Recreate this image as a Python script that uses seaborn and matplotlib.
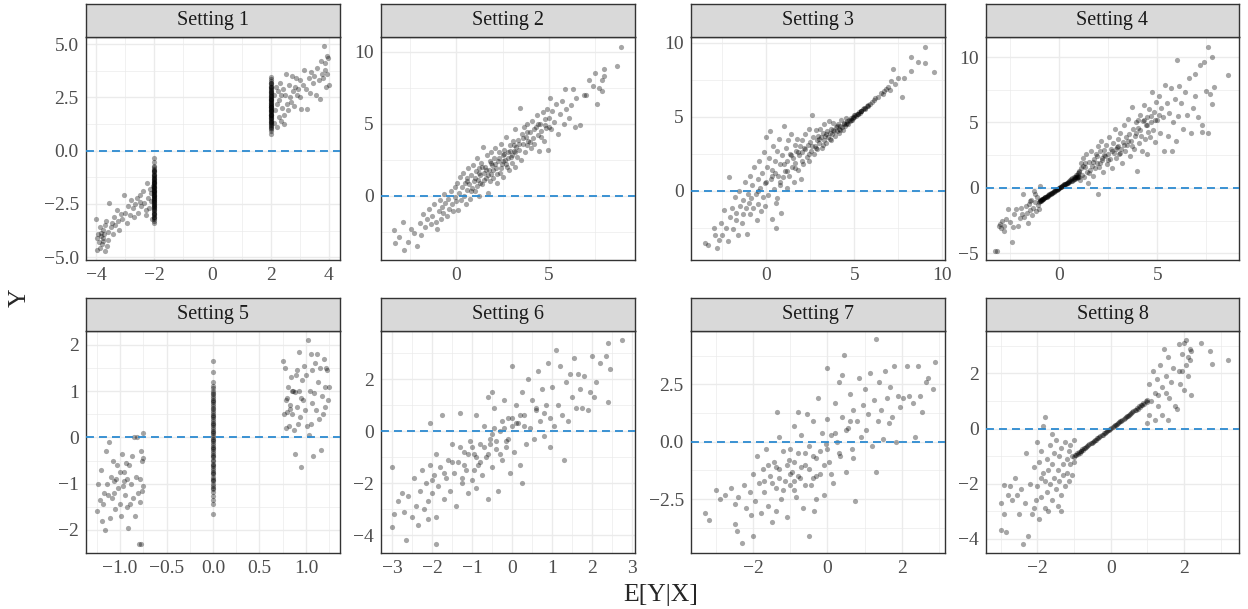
import pandas as pd
import matplotlib
matplotlib.use("Agg")
import matplotlib.pyplot as plt
import seaborn as sns

# ---- data (estimated) ----
SETTINGS = ["Setting 1", "Setting 2", "Setting 3", "Setting 4",
            "Setting 5", "Setting 6", "Setting 7", "Setting 8"]

s1_cloud = [
    (-4.00, -3.2), (-3.98, -4.1), (-3.96, -4.65), (-3.93, -3.9), (-3.90, -4.3), (-3.87, -3.6),
    (-3.85, -4.0), (-3.82, -3.85), (-3.80, -4.4), (-3.78, -3.7), (-3.75, -4.1), (-3.72, -3.9),
    (-3.70, -4.7), (-3.68, -3.5), (-3.65, -3.3), (-3.60, -4.2), (-3.58, -3.8), (-3.55, -2.45),
    (-3.50, -3.6), (-3.47, -3.4), (-3.42, -3.9), (-3.38, -3.1), (-3.35, -3.5), (-3.30, -2.8),
    (-3.25, -3.3), (-3.20, -3.7), (-3.15, -2.95), (-3.10, -3.2), (-3.05, -2.1), (-3.00, -2.9),
    (-2.95, -3.4), (-2.90, -2.6), (-2.85, -3.0), (-2.80, -2.3), (-2.75, -2.7), (-2.70, -3.1),
    (-2.65, -2.5), (-2.60, -2.2), (-2.55, -2.9), (-2.50, -2.4), (-2.45, -2.6), (-2.40, -1.9),
    (-2.35, -2.45), (-2.30, -3.0), (-2.25, -1.5), (-2.22, -2.2), (-2.18, -2.7), (-2.15, -1.8),
    (-2.12, -2.35), (-2.08, -3.2), (-2.06, -1.65), (-2.10, -2.0), (-2.28, -2.8), (-2.48, -2.1),
    (-3.62, -4.45), (-3.88, -4.55), (-3.75, -4.25),
    (2.10, 1.3), (2.12, 2.6), (2.15, 1.9), (2.18, 3.0), (2.20, 2.2), (2.22, 1.1), (2.25, 2.8),
    (2.28, 1.6), (2.30, 2.4), (2.33, 3.2), (2.35, 1.4), (2.40, 2.0), (2.42, 2.9), (2.45, 1.7),
    (2.50, 2.6), (2.52, 3.6), (2.55, 2.2), (2.60, 1.9), (2.62, 3.1), (2.65, 2.5), (2.70, 2.3),
    (2.72, 3.5), (2.75, 2.8), (2.80, 2.1), (2.85, 3.0), (2.88, 3.4), (2.90, 2.6), (2.95, 2.9),
    (3.00, 3.3), (3.02, 2.5), (3.05, 1.95), (3.10, 3.1), (3.15, 3.8), (3.20, 2.9), (3.25, 1.95),
    (3.30, 3.4), (3.35, 2.7), (3.40, 3.7), (3.45, 3.2), (3.50, 3.5), (3.55, 2.6), (3.60, 3.9),
    (3.65, 3.3), (3.70, 2.45), (3.72, 4.2), (3.75, 3.6), (3.80, 3.4), (3.82, 4.9), (3.85, 3.8),
    (3.88, 4.1), (3.90, 3.0), (3.92, 4.45), (3.95, 3.6), (3.98, 4.35), (4.00, 3.1), (2.45, 1.25),
    (2.35, 2.6),
]
# observations stacked at E[Y|X] = -2 and E[Y|X] = 2
s1_stripe_neg = [
    -0.35, -0.52, -0.7, -0.78, -0.85, -0.9, -0.97, -1.02, -1.08, -1.12, -1.18, -1.21, -1.27,
    -1.31, -1.36, -1.4, -1.45, -1.48, -1.53, -1.57, -1.61, -1.66, -1.69, -1.74, -1.77, -1.82,
    -1.85, -1.89, -1.93, -1.96, -2.0, -2.03, -2.07, -2.11, -2.14, -2.18, -2.21, -2.26, -2.29,
    -2.33, -2.37, -2.4, -2.45, -2.48, -2.53, -2.57, -2.62, -2.66, -2.71, -2.75, -2.8, -2.86,
    -2.91, -2.97, -3.03, -3.1, -3.16, -3.22, -3.3, -3.38,
    -0.95, -1.15, -1.34, -1.5, -1.72, -1.88, -2.06, -2.24, -2.43, -2.6, -2.78, -2.95, -3.13,
]
s1_stripe_pos = [
    0.8, 0.92, 1.0, 1.08, 1.14, 1.2, 1.25, 1.3, 1.36, 1.4, 1.45, 1.49, 1.54, 1.58, 1.62, 1.66,
    1.7, 1.74, 1.78, 1.81, 1.85, 1.89, 1.92, 1.96, 2.0, 2.03, 2.07, 2.1, 2.14, 2.17, 2.21, 2.25,
    2.28, 2.32, 2.36, 2.4, 2.44, 2.48, 2.52, 2.56, 2.61, 2.65, 2.7, 2.74, 2.79, 2.84, 2.89,
    2.95, 3.0, 3.06, 3.12, 3.19, 3.27, 3.35, 3.45,
    1.11, 1.33, 1.52, 1.69, 1.87, 2.05, 2.23, 2.42, 2.59, 2.77, 2.97, 3.16,
]

s2_cloud = [
    (-3.4, -2.4), (-3.3, -3.3), (-3.1, -2.9), (-2.9, -1.8), (-2.85, -3.8), (-2.6, -3.2),
    (-2.3, -2.6), (-2.15, -3.5), (-2.45, -2.3),
    (-1.95, -1.9), (-1.9, -2.7), (-1.8, -1.3), (-1.7, -2.2), (-1.6, -1.6), (-1.5, -0.9),
    (-1.4, -2.0), (-1.3, -1.4), (-1.2, -0.6), (-1.1, -1.8), (-1.05, -2.3),
    (-0.95, -1.1), (-0.9, -0.3), (-0.85, -1.6), (-0.8, -0.8), (-0.7, -1.2), (-0.65, 0.1),
    (-0.6, -0.5), (-0.5, -1.4), (-0.45, -0.2), (-0.4, -0.9), (-0.3, 0.3), (-0.25, -0.6),
    (-0.2, -1.1), (-0.1, -0.1), (-0.05, 0.6),
    (0.0, -0.4), (0.05, 0.9), (0.1, -1.0), (0.15, 0.2), (0.2, 1.3), (0.25, -0.3), (0.3, 0.6),
    (0.35, 1.6), (0.4, 0.0), (0.45, 0.9), (0.5, -0.6), (0.55, 1.2), (0.6, 0.4), (0.65, 1.9),
    (0.7, 0.8), (0.75, -0.2), (0.8, 1.4), (0.85, 0.5), (0.9, 2.1), (0.95, 1.0),
    (1.0, 0.3), (1.05, 1.7), (1.1, 2.6), (1.15, 1.1), (1.2, 0.0), (1.25, 1.9), (1.3, 1.4),
    (1.35, 2.3), (1.4, 0.8), (1.45, 3.4), (1.5, 1.6), (1.55, 2.0), (1.6, 1.2), (1.65, 2.8),
    (1.7, 0.2), (1.75, 1.8), (1.8, 2.4), (1.85, 1.5), (1.9, 3.0), (1.95, 2.1),
    (2.0, 1.2), (2.05, 2.6), (2.1, 3.3), (2.15, 1.9), (2.2, 0.9), (2.25, 2.4), (2.3, 3.0),
    (2.35, 1.6), (2.4, 3.6), (2.45, 2.2), (2.5, 2.8), (2.55, 1.3), (2.6, 3.2), (2.65, 2.5),
    (2.7, 4.1), (2.75, 2.0), (2.8, 3.0), (2.85, 1.8), (2.9, 3.5), (2.95, 2.7),
    (3.0, 2.3), (3.05, 3.8), (3.1, 3.1), (3.15, 2.0), (3.2, 4.6), (3.25, 3.4), (3.3, 2.7),
    (3.35, 3.9), (3.4, 3.2), (3.45, 6.1), (3.5, 2.5), (3.55, 4.3), (3.6, 3.6), (3.65, 4.8),
    (3.7, 3.0), (3.75, 4.1), (3.8, 3.5), (3.85, 5.0), (3.9, 3.8),
    (4.0, 4.4), (4.05, 3.3), (4.1, 5.2), (4.15, 4.0), (4.2, 3.6), (4.3, 4.8), (4.35, 5.6),
    (4.4, 4.2), (4.5, 3.1), (4.55, 5.0), (4.6, 4.5), (4.7, 5.8), (4.75, 3.8), (4.8, 5.3),
    (4.85, 4.7), (4.9, 6.0), (4.95, 3.2),
    (5.0, 5.4), (5.05, 6.8), (5.1, 4.6), (5.2, 5.9), (5.3, 5.1), (5.4, 6.4), (5.5, 4.3),
    (5.6, 5.7), (5.7, 6.6), (5.8, 5.0), (5.9, 7.4), (5.95, 6.0),
    (6.1, 5.4), (6.2, 6.3), (6.3, 7.4), (6.4, 4.8), (6.5, 6.8), (6.7, 4.9), (6.9, 7.0),
    (7.0, 7.0), (7.2, 8.0), (7.4, 7.6), (7.5, 8.5), (7.6, 6.4), (7.7, 7.5), (7.9, 7.3),
    (8.0, 8.3), (8.0, 8.8), (8.7, 9.0), (8.9, 10.3), (7.9, 8.0),
    (0.6, 1.0), (0.8, 0.3), (1.0, 1.2), (1.1, 0.7), (1.2, 1.6), (1.3, 0.9), (1.4, 2.0),
    (1.5, 1.1), (1.6, 1.8), (1.7, 1.4), (1.8, 1.0), (1.9, 2.3), (2.0, 1.8), (2.1, 2.2),
    (2.2, 1.5), (2.3, 2.6), (2.4, 1.9), (2.5, 2.4), (2.6, 2.9), (2.7, 2.2), (2.8, 2.6),
    (2.9, 3.1), (3.0, 2.8), (3.1, 3.5), (3.2, 3.0), (3.4, 3.6), (3.6, 4.0), (3.8, 4.4),
    (4.0, 3.7), (4.2, 4.6), (4.4, 5.0), (4.6, 4.1), (4.8, 4.9), (5.0, 4.8),
]

s3_cloud = [
    (-3.5, -3.5), (-3.3, -3.7), (-3.0, -2.5), (-2.9, -3.0), (-2.8, -3.9), (-2.7, -3.3),
    (-2.6, -2.2), (-2.5, -3.0), (-2.4, -1.3), (-2.3, -2.5), (-2.2, -3.4), (-2.1, 0.9),
    (-2.05, -1.8),
    (-1.95, -1.2), (-1.9, -2.6), (-1.8, -0.4), (-1.75, -2.0), (-1.7, -1.5), (-1.6, -3.0),
    (-1.55, 0.0), (-1.5, -1.0), (-1.4, -2.2), (-1.35, -0.6), (-1.3, -1.6), (-1.2, 0.6),
    (-1.15, -1.2), (-1.1, -2.9), (-1.05, -0.2),
    (-0.95, -1.6), (-0.9, 1.0), (-0.85, -0.5), (-0.8, 0.4), (-0.75, -1.2), (-0.7, 1.6),
    (-0.6, -0.2), (-0.55, -2.0), (-0.5, 0.8), (-0.45, -0.9), (-0.4, 2.0), (-0.35, 0.2),
    (-0.3, -1.4), (-0.25, 1.2), (-0.2, -0.4), (-0.15, 2.6), (-0.1, 0.5), (-0.05, -1.0),
    (0.0, 3.6), (0.05, 1.6), (0.1, -0.3), (0.15, 2.2), (0.2, 4.0), (0.25, 0.8), (0.3, -1.9),
    (0.35, 1.4), (0.4, 3.0), (0.45, 0.1), (0.5, 2.0), (0.55, -0.8), (0.55, -2.5), (0.6, 2.7),
    (0.65, 1.0), (0.7, 3.5), (0.75, 0.4), (0.8, 1.8), (0.85, -1.5), (0.9, 2.4), (0.95, 0.9),
    (1.0, 4.4), (1.05, 1.3), (1.1, 2.9), (1.15, 0.2), (1.2, 2.0), (1.25, 3.4), (1.3, 1.0),
    (1.35, 2.5), (1.4, 3.8), (1.45, 1.6), (1.5, 2.2), (1.55, 0.6), (1.6, 3.1), (1.65, 1.9),
    (1.7, 2.7), (1.75, 3.5), (1.8, 1.4), (1.85, 2.4), (1.9, 3.0), (1.95, 0.8),
    (2.0, 2.6), (2.05, 3.4), (2.1, 1.8), (2.15, 2.9), (2.2, 3.8), (2.3, 2.3), (2.35, 3.1),
    (2.4, 4.2), (2.45, 2.0), (2.5, 3.3), (2.55, 2.7), (2.6, 5.1), (2.65, 3.6), (2.7, 2.5),
    (2.75, 3.0), (2.8, 4.1), (2.85, 3.4), (2.9, 2.8), (2.95, 3.7),
    (3.0, 3.2), (3.05, 4.2), (3.1, 3.6), (3.15, 2.9), (3.2, 3.9), (3.25, 3.4), (3.3, 4.5),
    (3.35, 3.7), (3.4, 3.2), (3.45, 4.0), (3.5, 3.6), (3.55, 4.7), (3.6, 3.9), (3.65, 3.4),
    (3.7, 4.2), (3.75, 3.8), (3.8, 4.6), (3.85, 4.0), (3.9, 3.7), (3.95, 4.3),
    (4.0, 4.0), (4.05, 4.5), (4.1, 4.2), (4.15, 3.9), (4.2, 4.4), (4.25, 4.8), (4.3, 4.3),
    (4.35, 4.1), (4.4, 4.6), (4.45, 4.4), (4.5, 4.5), (4.55, 4.9), (4.6, 4.6), (4.65, 4.5),
    (4.7, 4.8), (4.75, 4.7), (4.8, 4.9), (4.85, 4.8), (4.9, 5.0), (4.95, 4.9),
    (5.0, 5.0), (5.05, 5.1), (5.1, 5.05), (5.15, 5.2), (5.2, 5.15), (5.25, 5.3), (5.3, 5.25),
    (5.35, 5.4), (5.4, 5.35), (5.5, 5.5), (5.55, 5.6), (5.6, 5.55), (5.7, 5.7), (5.8, 5.8),
    (5.9, 5.85), (6.0, 6.0),
    (6.1, 6.1), (6.2, 6.25), (6.35, 6.3), (6.5, 6.6), (6.6, 6.5), (6.8, 6.9), (6.9, 7.0),
    (6.7, 6.7),
    (7.0, 6.8), (7.1, 7.4), (7.2, 8.2), (7.3, 7.2), (7.5, 7.6), (7.7, 6.3), (7.8, 7.6),
    (8.2, 8.1), (8.2, 9.0), (8.6, 8.7), (9.0, 8.6), (9.0, 9.7), (9.5, 8.0),
    (0.5, 1.2), (0.8, 0.6), (1.0, 1.8), (1.2, 1.3), (1.4, 2.4), (1.6, 1.5), (1.8, 2.6),
    (2.0, 2.0), (2.2, 2.8), (2.4, 2.5), (2.6, 3.0), (2.8, 2.9), (3.0, 3.5), (3.2, 3.1),
    (3.4, 3.8), (3.6, 3.5), (3.8, 4.1), (4.0, 4.4), (4.2, 4.1), (4.4, 4.5), (4.6, 4.7),
    (4.8, 4.8), (5.0, 5.1), (5.2, 5.2), (5.4, 5.4), (5.6, 5.6), (5.8, 5.75), (-0.5, 0.0),
    (0.0, 0.6), (0.3, 1.0), (-1.0, -0.8), (0.6, -0.5),
]

s4_cloud = [
    (-3.3, -4.8), (-3.2, -4.85), (-3.1, -2.9), (-3.0, -3.1), (-2.9, -2.5), (-2.8, -3.3),
    (-2.7, -2.4), (-2.6, -1.6), (-2.5, -2.6), (-2.4, -4.1), (-2.35, -3.0), (-2.3, -2.0),
    (-2.2, -1.6), (-2.1, -2.9), (-2.0, -2.3), (-1.95, -1.5), (-1.9, -2.0), (-1.85, -0.5),
    (-1.8, -2.2), (-1.7, -1.4), (-1.65, -1.9), (-1.6, -2.7), (-1.55, -1.2), (-1.5, -1.7),
    (-1.45, -0.9), (-1.4, -2.1), (-1.35, -1.5), (-1.3, -0.2), (-1.25, -1.1), (-1.2, -1.8),
    (-1.15, -0.7), (-1.1, -1.3), (-1.05, -1.6), (-0.98, 0.15), (-1.5, -1.0), (-1.25, -0.5),
    (-2.8, -2.9), (-3.05, -2.75),
    (1.0, 1.3), (1.05, 0.6), (1.1, 1.9), (1.15, 1.0), (1.2, 2.3), (1.25, 0.8), (1.3, 1.6),
    (1.35, 2.6), (1.4, 1.2), (1.45, 0.4), (1.5, 2.0), (1.55, 1.4), (1.6, 2.8), (1.65, 1.7),
    (1.7, 0.9), (1.75, 2.2), (1.8, 1.5), (1.85, 2.6), (1.9, 1.9), (1.95, 3.2),
    (2.0, -0.5), (2.05, 1.6), (2.1, 2.8), (2.15, 3.6), (2.2, 2.1), (2.25, 1.2), (2.3, 2.9),
    (2.35, 2.4), (2.4, 3.3), (2.45, 1.8), (2.5, 2.6), (2.55, 3.9), (2.6, 2.2), (2.65, 3.0),
    (2.7, 1.5), (2.75, 3.4), (2.8, 2.7), (2.85, 4.5), (2.9, 2.3), (2.95, 3.1),
    (3.0, 3.7), (3.05, 2.6), (3.1, 4.2), (3.15, 3.0), (3.2, 1.9), (3.25, 3.5), (3.3, 4.8),
    (3.35, 2.8), (3.4, 3.9), (3.45, 3.3), (3.5, 5.3), (3.55, 4.1), (3.6, 2.4), (3.65, 3.6),
    (3.7, 6.2), (3.75, 4.5), (3.8, 3.0), (3.85, 4.0), (3.9, 5.0), (3.95, 1.3),
    (4.0, 4.6), (4.05, 3.4), (4.1, 5.6), (4.15, 4.0), (4.2, 2.8), (4.25, 5.1), (4.3, 6.3),
    (4.35, 3.7), (4.4, 4.8), (4.45, 2.6), (4.5, 5.4), (4.55, 4.3), (4.6, 6.0), (4.65, 3.9),
    (4.7, 5.0), (4.75, 7.3), (4.8, 4.4), (4.85, 5.8), (4.9, 3.5), (4.95, 6.6),
    (5.0, 5.2), (5.1, 7.0), (5.15, 4.2), (5.2, 6.1), (5.3, 5.4), (5.35, 2.8), (5.4, 7.9),
    (5.5, 6.5), (5.55, 4.0), (5.6, 5.7), (5.7, 7.6), (5.75, 2.8), (5.8, 5.0), (5.9, 6.8),
    (5.95, 3.6),
    (6.0, 9.8), (6.05, 5.5), (6.1, 7.8), (6.2, 6.5), (6.3, 4.5), (6.4, 7.3), (6.5, 5.6),
    (6.6, 8.4), (6.7, 4.2), (6.8, 6.1), (6.9, 8.7), (6.95, 7.0),
    (7.1, 5.4), (7.2, 9.4), (7.3, 4.3), (7.3, 4.8), (7.4, 9.6), (7.5, 7.4), (7.6, 10.8),
    (7.7, 7.2), (7.8, 10.0), (7.8, 6.4), (7.9, 7.7), (8.6, 8.6), (7.6, 4.2),
    (1.1, 1.5), (1.3, 1.9), (1.5, 1.1), (1.7, 2.0), (1.9, 2.4), (2.1, 1.9), (2.3, 2.5),
    (2.5, 2.1), (2.7, 2.8), (2.9, 3.0), (3.1, 2.7), (3.3, 3.3), (3.5, 3.6), (3.7, 3.2),
    (3.9, 4.2), (4.1, 4.4), (4.3, 5.2), (4.5, 4.8), (4.7, 5.5), (4.9, 5.2), (5.1, 5.6),
    (1.2, 1.7), (2.2, 2.3), (3.0, 3.2), (4.0, 5.2),
]
# near-deterministic segment between -1 and 1
s4_line = [
    (-1.02, -1.05), (-1.0, -0.98), (-0.98, -1.02), (-0.96, -0.94), (-0.94, -0.97), (-0.92, -0.9),
    (-0.9, -0.93), (-0.88, -0.86), (-0.86, -0.88), (-0.84, -0.82), (-0.82, -0.84), (-0.8, -0.78),
    (-0.77, -0.79), (-0.74, -0.73), (-0.71, -0.72), (-0.68, -0.67), (-0.65, -0.66), (-0.62, -0.61),
    (-0.59, -0.6), (-0.56, -0.55), (-0.53, -0.54), (-0.5, -0.49), (-0.47, -0.48), (-0.44, -0.43),
    (-0.41, -0.42), (-0.38, -0.37), (-0.35, -0.36), (-0.32, -0.31), (-0.29, -0.3), (-0.26, -0.25),
    (-0.23, -0.23), (-0.2, -0.19), (-0.17, -0.17), (-0.14, -0.13), (-0.11, -0.11), (-0.08, -0.07),
    (-0.05, -0.05), (-0.02, -0.01), (0.01, 0.02), (0.04, 0.04), (0.07, 0.08), (0.1, 0.1),
    (0.13, 0.14), (0.16, 0.15), (0.19, 0.2), (0.22, 0.2), (0.25, 0.27), (0.28, 0.26),
    (0.31, 0.33), (0.34, 0.3), (0.37, 0.4), (0.4, 0.36), (0.43, 0.47), (0.46, 0.41),
    (0.49, 0.53), (0.52, 0.46), (0.55, 0.6), (0.58, 0.5), (0.61, 0.67), (0.64, 0.56),
    (0.67, 0.74), (0.7, 0.6), (0.73, 0.8), (0.76, 0.65), (0.79, 0.87), (0.82, 0.7),
    (0.85, 0.95), (0.88, 0.74), (0.91, 1.02), (0.94, 0.8), (0.97, 1.1), (1.0, 0.86),
    (1.0, 1.2), (0.95, 0.92), (0.9, 0.85), (0.85, 0.82), (0.8, 0.78),
]

s5_cloud = [
    (-1.25, -1.6), (-1.24, -1.0), (-1.22, -1.35), (-1.2, -0.7), (-1.19, -1.8), (-1.18, -1.45),
    (-1.17, -1.2), (-1.16, -2.0), (-1.15, -0.3), (-1.14, -1.0), (-1.12, -0.1), (-1.11, -1.75),
    (-1.1, -0.85), (-1.09, -1.3), (-1.08, -0.5), (-1.07, -1.2), (-1.05, -1.55), (-1.04, -0.9),
    (-1.03, -0.6), (-1.02, -1.1), (-1.0, -0.75), (-1.0, -1.45), (-0.99, -1.7), (-0.98, -0.35),
    (-0.97, -1.05), (-0.96, -0.95), (-0.95, -1.25), (-0.94, -0.55), (-0.93, -1.5), (-0.92, -0.9),
    (-0.91, -1.95), (-0.9, -0.6), (-0.89, -1.45), (-0.88, -1.0), (-0.87, -0.4), (-0.86, -1.3),
    (-0.85, 0.0), (-0.84, -1.7), (-0.83, -0.85), (-0.82, 0.0), (-0.81, -1.2), (-0.8, -2.3),
    (-0.79, -1.4), (-0.78, -0.9), (-0.77, -0.3), (-0.77, -2.3), (-0.76, -0.5), (-0.76, -1.15),
    (-0.75, 0.1), (-0.75, -0.45), (-0.75, -1.05), (-1.06, -0.95), (-0.96, -0.75), (-1.13, -1.25),
    (0.75, 1.65), (0.76, 0.5), (0.77, 1.5), (0.78, 0.2), (0.79, 0.8), (0.8, 0.55), (0.81, 1.1),
    (0.82, 0.25), (0.83, 0.7), (0.84, 1.3), (0.85, 0.5), (0.86, 1.0), (0.87, 0.15), (0.88, -0.35),
    (0.89, 1.35), (0.9, 0.65), (0.91, 0.3), (0.92, 1.85), (0.93, 1.0), (0.94, 0.45), (0.95, -0.65),
    (0.96, 1.25), (0.97, 0.8), (0.98, 1.55), (0.99, 0.6), (1.0, 1.35), (1.01, 0.25), (1.02, 2.1),
    (1.03, 0.05), (1.04, 1.0), (1.05, 1.8), (1.06, 0.75), (1.07, 1.45), (1.08, -0.4), (1.09, 0.95),
    (1.1, 1.6), (1.11, 0.6), (1.12, 1.8), (1.13, 1.2), (1.14, 0.4), (1.15, 1.5), (1.16, -0.28),
    (1.17, 0.9), (1.18, 0.5), (1.19, 1.7), (1.2, 1.1), (1.21, 0.65), (1.22, 1.5), (1.23, 1.45),
    (1.24, 0.8), (1.25, 1.1), (0.85, 1.0), (0.88, 0.98), (0.83, 0.62), (0.9, 1.45), (0.8, 0.85),
    (1.05, 0.3), (0.95, 0.85),
]
# observations stacked at E[Y|X] = 0
s5_stripe = [
    1.65, 1.42, 1.2, 1.12, 1.06, 1.0, 0.95, 0.9, 0.86, 0.81, 0.76, 0.72, 0.67, 0.62, 0.58, 0.53,
    0.49, 0.44, 0.4, 0.35, 0.31, 0.27, 0.22, 0.18, 0.14, 0.1, 0.05, 0.01, -0.03, -0.08, -0.12,
    -0.16, -0.21, -0.25, -0.3, -0.34, -0.39, -0.43, -0.48, -0.52, -0.57, -0.61, -0.66, -0.71,
    -0.76, -0.8, -0.85, -0.9, -0.95, -1.0, -1.06, -1.12, -1.19, -1.27, -1.36, -1.45, -1.65,
    0.93, 0.79, 0.64, 0.47, 0.29, 0.12, -0.06, -0.23, -0.41, -0.59, -0.74, -0.92, -1.09,
]

s6_cloud = [
    (-3.0, -1.4), (-3.0, -3.7), (-2.95, -3.2), (-2.85, -2.7), (-2.75, -2.4), (-2.7, -3.1),
    (-2.65, -4.2), (-2.6, -2.5), (-2.5, -3.3), (-2.45, -1.8), (-2.4, -2.9), (-2.35, -3.6),
    (-2.3, -2.3), (-2.25, -1.5), (-2.2, -3.0), (-2.15, -2.0), (-2.1, -2.7), (-2.05, -1.3),
    (-2.0, -2.4), (-2.1, -3.4), (-2.05, 0.3),
    (-1.95, -1.7), (-1.9, -3.3), (-1.9, -0.9), (-1.85, -2.1), (-1.8, -1.4), (-1.75, 0.6),
    (-1.7, -2.6), (-1.65, -1.8), (-1.6, -1.1), (-1.55, -2.3), (-1.5, -0.5), (-1.45, -1.6),
    (-1.4, -2.9), (-1.35, -1.2), (-1.3, 0.7), (-1.25, -2.0), (-1.2, -0.8), (-1.15, -1.5),
    (-1.1, -2.4), (-1.05, -0.4), (-1.0, -1.9), (-1.9, -4.35),
    (-0.95, -0.9), (-0.9, -2.2), (-0.9, 0.6), (-0.85, -1.3), (-0.8, -0.5), (-0.75, -1.7),
    (-0.7, 0.2), (-0.65, -1.0), (-0.6, -2.6), (-0.55, -0.3), (-0.5, -1.4), (-0.45, 0.9),
    (-0.4, -0.7), (-0.35, -2.3), (-0.3, 0.0), (-0.25, -1.1), (-0.2, 1.2), (-0.15, -0.4),
    (-0.1, 0.5), (-0.05, -1.6), (-0.5, 1.5), (-0.6, 1.3),
    (0.0, 2.5), (0.0, 0.2), (0.05, -0.8), (0.1, 1.0), (0.15, 0.3), (0.2, -1.3), (0.25, -2.0),
    (0.25, 1.5), (0.3, 0.6), (0.35, -0.5), (0.4, 2.0), (0.45, 0.1), (0.5, 1.2), (0.55, -0.3),
    (0.6, 0.8), (0.65, 2.3), (0.7, 0.4), (0.75, 1.6), (0.8, -0.2), (0.85, 1.0), (0.9, 2.6),
    (0.95, 0.5), (0.95, -0.6),
    (1.0, 1.7), (1.05, 0.2), (1.1, 3.1), (1.15, 1.0), (1.2, 2.5), (1.25, 0.6), (1.3, -1.1),
    (1.35, 1.9), (1.4, 0.4), (1.45, 2.2), (1.5, 1.3), (1.55, 2.8), (1.6, 0.9), (1.65, 2.2),
    (1.7, 1.6), (1.75, 0.9), (1.8, 2.1), (1.9, 0.8), (1.95, 1.5),
    (2.0, 2.9), (2.05, 1.3), (2.2, 2.6), (2.35, 2.9), (2.4, 3.4), (2.4, 1.1), (2.45, 2.4),
    (2.75, 3.5), (2.1, 1.9),
    (-1.5, -1.2), (-1.3, -0.6), (-1.2, -1.3), (-1.1, -0.9), (-1.0, -0.6), (-0.9, -1.0),
    (-0.8, -1.2), (-0.7, -0.6), (-0.6, -0.9), (-0.5, -0.1), (-0.4, -0.4), (-0.3, -0.9),
    (-0.2, 0.1), (-0.1, -0.3), (0.0, 0.5), (0.1, 0.3), (0.2, 0.6), (0.3, 0.2), (-0.45, 0.1),
    (-0.55, -0.5), (-1.7, -1.6), (-2.0, -1.9), (0.6, 0.9), (0.8, 0.7), (-0.25, 0.4),
    (-0.95, -1.5), (-1.25, -1.8), (-0.15, -0.6),
]

s7_cloud = [
    (-3.3, -3.1), (-3.2, -3.4), (-3.0, -2.1), (-2.9, -2.5), (-2.75, -2.3), (-2.6, -2.0),
    (-2.5, -3.6), (-2.5, -2.7), (-2.45, -3.9), (-2.4, -2.4), (-2.3, -4.4), (-2.25, -1.9),
    (-2.2, -2.9), (-2.1, -2.2), (-2.05, -3.2), (-2.0, -4.1), (-2.0, -1.4),
    (-1.95, -2.6), (-1.9, -0.6), (-1.85, -1.8), (-1.8, -3.1), (-1.75, -1.2), (-1.7, -2.2),
    (-1.65, -0.3), (-1.6, -2.8), (-1.55, -1.5), (-1.5, -3.5), (-1.45, -0.9), (-1.4, -2.0),
    (-1.35, 1.3), (-1.3, -1.2), (-1.25, -2.5), (-1.2, -0.4), (-1.15, -1.7), (-1.1, -3.3),
    (-1.05, -0.8), (-1.0, -1.9), (-1.4, -3.0), (-1.6, -1.0), (-1.3, 0.2),
    (-0.95, -1.3), (-0.9, 0.7), (-0.85, -2.4), (-0.8, -0.5), (-0.75, -1.6), (-0.7, 0.3),
    (-0.65, -2.9), (-0.6, -1.0), (-0.55, 1.2), (-0.5, -0.2), (-0.45, -1.9), (-0.4, 0.9),
    (-0.35, -3.0), (-0.3, -0.7), (-0.25, 1.9), (-0.2, -1.4), (-0.15, 0.4), (-0.1, -2.3),
    (-0.05, -0.1), (-0.5, -4.1), (-0.8, 1.3), (-0.3, -2.5), (-0.9, -1.7),
    (0.0, 3.2), (0.0, 1.0), (0.05, -0.9), (0.1, 0.3), (0.15, -1.8), (0.2, 1.7), (0.25, 0.0),
    (0.3, 2.6), (0.35, -0.6), (0.4, 1.1), (0.45, 3.8), (0.5, -1.3), (0.55, 0.6), (0.6, 2.1),
    (0.65, -0.3), (0.7, 1.4), (0.75, -2.6), (0.8, 0.9), (0.85, 2.8), (0.9, 0.2), (0.95, 1.6),
    (0.7, -0.7), (0.4, 2.9),
    (1.0, 2.3), (1.05, 0.5), (1.1, 1.2), (1.15, 3.0), (1.2, -0.2), (1.25, 1.8), (1.3, 4.5),
    (1.3, -1.3), (1.35, 0.9), (1.4, 2.6), (1.45, 1.4), (1.5, 0.1), (1.55, 3.1), (1.6, 1.9),
    (1.65, 0.8), (1.7, 2.4), (1.75, 1.1), (1.8, 3.3), (1.85, 0.0), (1.9, 2.0), (1.95, 1.5),
    (2.05, 1.9), (2.15, 3.3), (2.2, 2.0), (2.3, 1.7), (2.35, 0.2), (2.45, 3.3), (2.55, 1.3),
    (2.65, 2.6), (2.7, 2.8), (2.85, 2.3), (2.9, 3.5), (2.5, 2.0),
    (-1.5, -1.8), (-1.4, -1.1), (-1.3, -1.6), (-1.2, -2.1), (-1.1, -1.0), (-1.0, -1.4),
    (-0.9, -0.9), (-0.8, -1.5), (-0.7, -1.1), (-0.6, -0.5), (-0.5, -1.2), (-0.4, -0.6),
    (-0.3, -1.5), (-0.2, -0.4), (-0.1, -1.0), (0.0, -0.3), (0.1, -1.4), (0.2, 0.4),
    (0.3, -0.5), (-0.9, -2.1), (-0.6, -1.9), (-1.7, -1.7), (-0.4, -1.6), (0.5, 0.5),
    (0.6, 0.9), (-1.0, -0.3),
]

s8_cloud = [
    (-3.0, -2.7), (-3.0, -3.7), (-2.9, -2.05), (-2.9, -3.1), (-2.85, -3.75), (-2.8, -2.4),
    (-2.75, -2.1), (-2.7, -2.6), (-2.6, -1.8), (-2.55, -2.4), (-2.5, -3.1), (-2.45, -2.2),
    (-2.4, -4.2), (-2.35, -2.7), (-2.3, -0.9), (-2.25, -3.9), (-2.2, -2.0), (-2.15, -3.1),
    (-2.1, -1.4), (-2.05, -2.6), (-2.0, -0.5), (-2.0, -2.1), (-1.95, -3.3), (-1.95, -1.2),
    (-1.9, -0.8), (-1.9, -2.5), (-1.85, -1.6), (-1.85, 0.1), (-1.8, -2.9), (-1.8, -1.9),
    (-1.8, 0.4), (-1.75, -1.1), (-1.75, -2.3), (-1.7, -1.5), (-1.7, -3.0), (-1.65, -0.6),
    (-1.65, -2.0), (-1.6, -1.3), (-1.6, -2.6), (-1.55, -0.9), (-1.55, -1.8), (-1.5, -2.2),
    (-1.5, -0.4), (-1.45, -1.5), (-1.45, -2.8), (-1.4, -1.0), (-1.4, -1.9), (-1.35, -0.7),
    (-1.35, -2.4), (-1.3, -1.3), (-1.3, -1.7), (-1.25, -0.5), (-1.25, -2.1), (-1.2, -1.1),
    (-1.2, -1.6), (-1.15, -0.8), (-1.15, -1.9), (-1.1, -1.3), (-1.1, -0.6), (-1.05, -1.0),
    (-1.05, -1.7), (-1.0, -1.2), (-1.0, -0.4), (-1.35, -3.0), (-1.6, -0.2), (-1.9, -1.8),
    (-2.1, -2.9),
    (1.0, 0.2), (1.05, 0.5), (1.05, 1.6), (1.1, 1.0), (1.15, 2.1), (1.2, 0.3), (1.2, 1.3),
    (1.25, 1.8), (1.3, 0.8), (1.3, 1.2), (1.35, 2.3), (1.4, 1.5), (1.4, 0.5), (1.45, 2.9),
    (1.5, 1.3), (1.5, 1.9), (1.55, 0.3), (1.55, 2.6), (1.6, 1.1), (1.65, 1.7), (1.7, 2.2),
    (1.75, 0.8), (1.8, 0.7), (1.85, 2.1), (1.9, 1.6), (1.95, 2.7), (2.0, 3.1), (2.0, 1.4),
    (2.05, 2.3), (2.05, 3.2), (2.1, 2.6), (2.1, 1.9), (2.15, 2.9), (2.2, 1.2), (2.2, 2.8),
    (2.45, 3.1), (2.7, 2.8), (2.75, 2.35), (3.2, 2.5), (1.85, 3.05), (1.95, 2.1), (2.15, 2.5),
]
s8_line = [
    (-1.0, -1.02), (-0.97, -0.95), (-0.95, -0.98), (-0.92, -0.9), (-0.9, -0.93), (-0.87, -0.85),
    (-0.85, -0.88), (-0.82, -0.8), (-0.8, -0.83), (-0.77, -0.76), (-0.75, -0.77), (-0.72, -0.71),
    (-0.7, -0.72), (-0.67, -0.66), (-0.64, -0.64), (-0.61, -0.6), (-0.58, -0.58), (-0.55, -0.54),
    (-0.52, -0.52), (-0.49, -0.48), (-0.46, -0.46), (-0.43, -0.42), (-0.4, -0.4), (-0.37, -0.36),
    (-0.34, -0.34), (-0.31, -0.3), (-0.28, -0.28), (-0.25, -0.24), (-0.22, -0.22), (-0.19, -0.18),
    (-0.16, -0.16), (-0.13, -0.12), (-0.1, -0.1), (-0.07, -0.06), (-0.04, -0.04), (-0.01, 0.0),
    (0.02, 0.02), (0.05, 0.05), (0.08, 0.08), (0.11, 0.11), (0.14, 0.14), (0.17, 0.17),
    (0.2, 0.2), (0.23, 0.23), (0.26, 0.26), (0.29, 0.29), (0.32, 0.32), (0.35, 0.35),
    (0.38, 0.38), (0.41, 0.41), (0.44, 0.44), (0.47, 0.47), (0.5, 0.5), (0.53, 0.53),
    (0.56, 0.56), (0.59, 0.6), (0.62, 0.62), (0.65, 0.66), (0.68, 0.67), (0.71, 0.73),
    (0.74, 0.72), (0.77, 0.8), (0.8, 0.78), (0.83, 0.87), (0.86, 0.84), (0.89, 0.94),
    (0.92, 0.9), (0.95, 1.0), (0.98, 0.96), (1.0, 1.05),
]

# axis ranges and tick values per panel (free scales, as in the figure)
x_limits = [(-4.35, 4.38), (-4.08, 9.67), (-4.28, 10.15), (-3.74, 9.17),
            (-1.366, 1.366), (-3.28, 3.07), (-3.68, 3.17), (-3.40, 3.50)]
y_limits = [(-5.13, 5.34), (-4.47, 11.02), (-4.68, 10.38), (-5.51, 11.53),
            (-2.50, 2.30), (-4.69, 3.85), (-4.85, 4.83), (-4.52, 3.54)]
x_ticks = [[-4, -2, 0, 2, 4], [0, 5], [0, 5, 10], [0, 5],
           [-1, -0.5, 0, 0.5, 1], [-3, -2, -1, 0, 1, 2, 3], [-2, 0, 2], [-2, 0, 2]]
y_ticks = [[-5, -2.5, 0, 2.5, 5], [0, 5, 10], [0, 5, 10], [-5, 0, 5, 10],
           [-2, -1, 0, 1, 2], [-4, -2, 0, 2], [-2.5, 0, 2.5], [-4, -2, 0, 2]]
x_decimals = [0, 0, 0, 0, 1, 0, 0, 0]
y_decimals = [1, 0, 0, 0, 0, 0, 1, 0]


def build_frame():
    rows = []

    def add(name, pts):
        rows.extend((name, x, y) for x, y in pts)

    add("Setting 1", s1_cloud)
    add("Setting 1", [(-2.0, y) for y in s1_stripe_neg])
    add("Setting 1", [(2.0, y) for y in s1_stripe_pos])
    add("Setting 2", s2_cloud)
    add("Setting 3", s3_cloud)
    add("Setting 4", s4_cloud)
    add("Setting 4", s4_line)
    add("Setting 5", s5_cloud)
    add("Setting 5", [(0.0, y) for y in s5_stripe])
    add("Setting 6", s6_cloud)
    add("Setting 7", s7_cloud)
    add("Setting 8", s8_cloud)
    add("Setting 8", s8_line)
    return pd.DataFrame(rows, columns=["setting", "x", "y"])


def fmt(values, decimals):
    return [f"{v:.{decimals}f}".replace("-", "\u2212") for v in values]


def minor_grid(major, lim):
    step = major[1] - major[0]
    out = []
    v = major[0] - step / 2
    while v < lim[1]:
        if v > lim[0]:
            out.append(v)
        v += step
    return out


def main():
    df = build_frame()

    sns.set_style("white")
    plt.rcParams["font.family"] = ["Liberation Serif", "DejaVu Serif"]

    W, H = 1248, 609
    fig = plt.figure(figsize=(W / 100, H / 100), dpi=100)

    cols_px = [(86, 340), (381, 635), (691, 945), (986, 1239)]
    rows_px = [(37, 260), (331, 553)]
    strip_h = 33

    for i, name in enumerate(SETTINGS):
        r, c = divmod(i, 4)
        left, right = cols_px[c]
        top, bottom = rows_px[r]

        ax = fig.add_axes([left / W, 1 - bottom / H, (right - left) / W, (bottom - top) / H])
        sub = df[df["setting"] == name]
        sns.scatterplot(data=sub, x="x", y="y", ax=ax, color="black", alpha=0.35,
                        s=14, linewidth=0, legend=False, zorder=2)
        ax.axhline(0, color="#2B8AD0", lw=1.3, ls=(0, (4.4, 2.8)), zorder=3)

        ax.set_xlim(x_limits[i])
        ax.set_ylim(y_limits[i])
        ax.set_xticks(x_ticks[i], fmt(x_ticks[i], x_decimals[i]))
        ax.set_yticks(y_ticks[i], fmt(y_ticks[i], y_decimals[i]))
        ax.set_xticks(minor_grid(x_ticks[i], x_limits[i]), minor=True)
        ax.set_yticks(minor_grid(y_ticks[i], y_limits[i]), minor=True)
        ax.tick_params(which="major", length=3.2, width=0.8, color="#333333",
                       labelsize=14, labelcolor="#4D4D4D", pad=2)
        ax.tick_params(which="minor", length=0)
        ax.grid(which="major", color="#EBEBEB", lw=1.0)
        ax.grid(which="minor", color="#EBEBEB", lw=0.5)
        ax.set_axisbelow(True)
        ax.set_xlabel("")
        ax.set_ylabel("")
        for sp in ax.spines.values():
            sp.set_color("#333333")
            sp.set_linewidth(1.0)

        strip = fig.add_axes([left / W, 1 - top / H, (right - left) / W, strip_h / H])
        strip.set_facecolor("#D9D9D9")
        strip.set_xticks([])
        strip.set_yticks([])
        for sp in strip.spines.values():
            sp.set_color("#333333")
            sp.set_linewidth(1.0)
        strip.text(0.5, 0.5, name, ha="center", va="center", fontsize=14.5,
                   color="#1A1A1A", transform=strip.transAxes)

    fig.text(661 / W, 1 - 595 / H, "E[Y|X]", ha="center", va="center", fontsize=18.5)
    fig.text(20 / W, 1 - 298 / H, "Y", ha="center", va="center", fontsize=18.5, rotation=90)

    fig.savefig("out.png", dpi=100)


if __name__ == "__main__":
    main()
